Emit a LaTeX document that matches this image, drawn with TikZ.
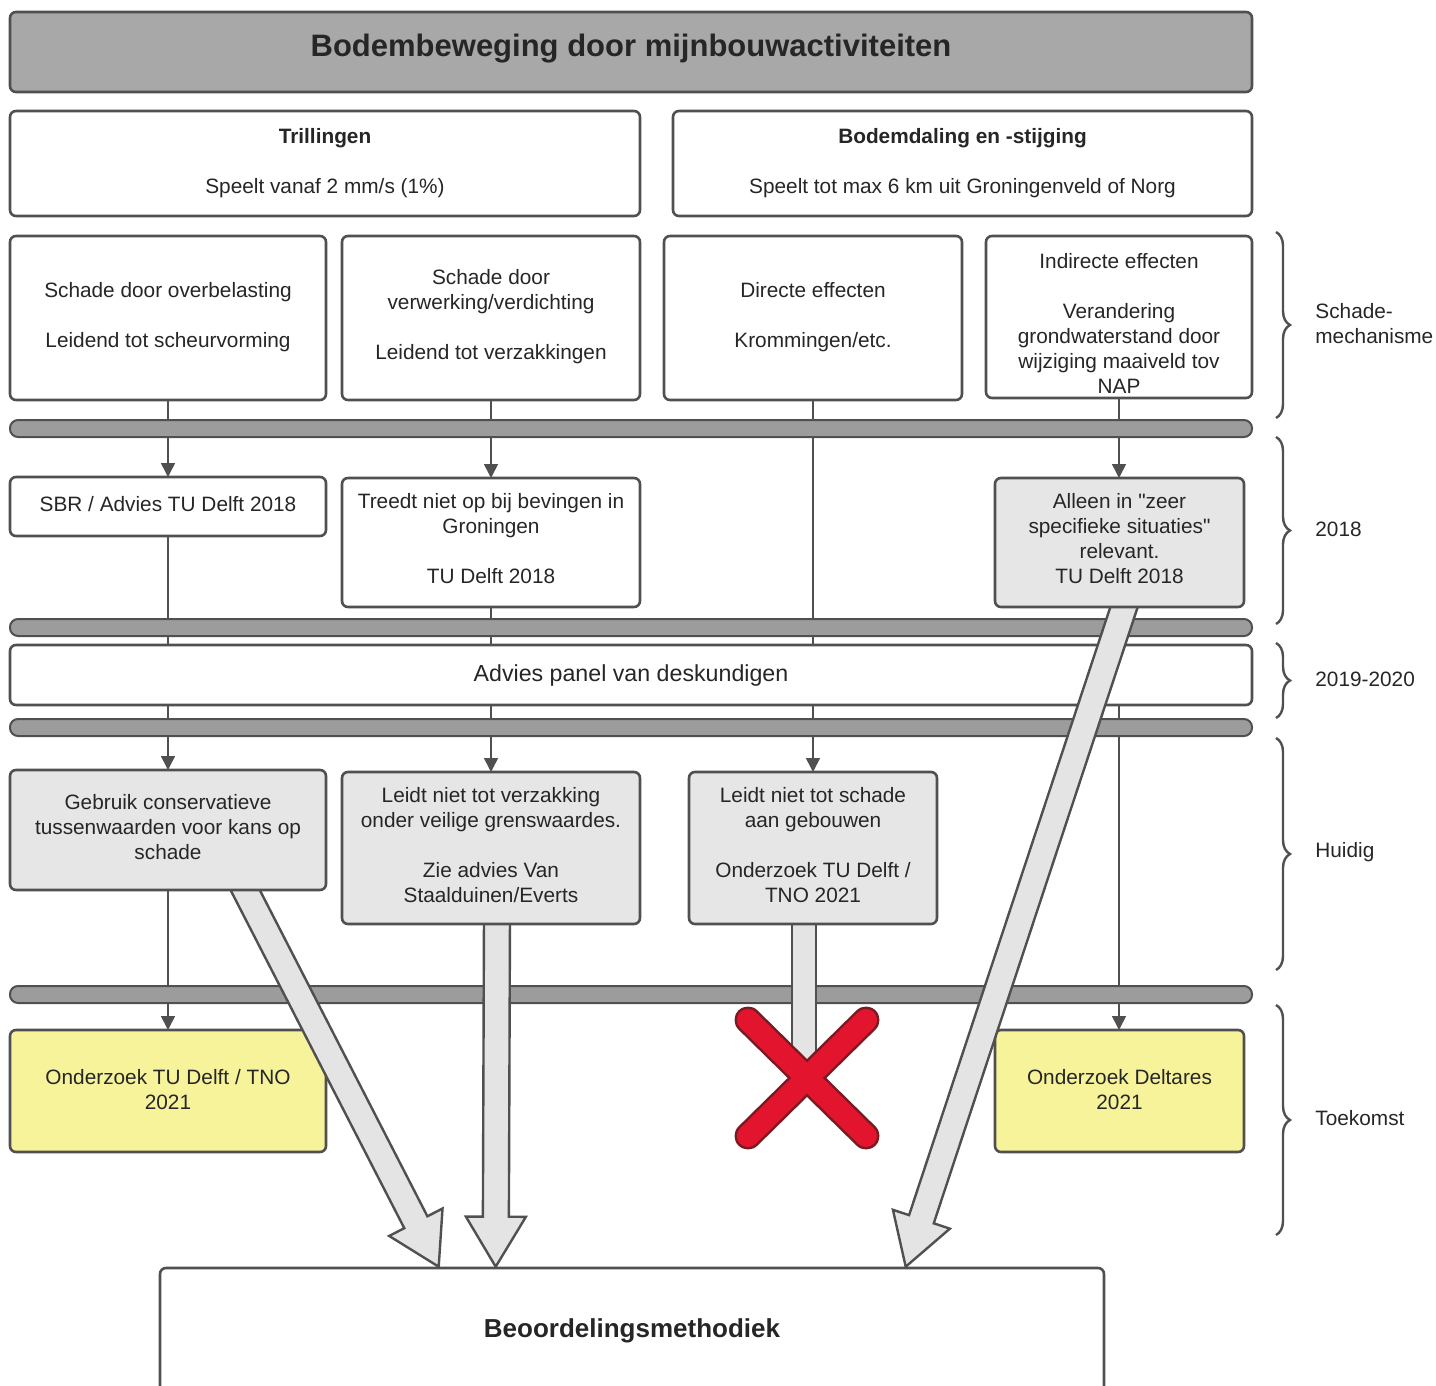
\documentclass[tikz,border=0pt]{standalone}
\usepackage{fontspec}
\setmainfont{Liberation Sans}[Ligatures=TeXOff]
\usetikzlibrary{fit,calc,arrows.meta,decorations.pathreplacing}
\definecolor{edge}{HTML}{505050}
\definecolor{titleg}{HTML}{A8A8A8}
\definecolor{barg}{HTML}{9C9C9C}
\definecolor{lightg}{HTML}{E6E6E6}
\definecolor{arrowg}{HTML}{E4E4E4}
\definecolor{yel}{HTML}{F7F39B}
\definecolor{txt}{HTML}{262626}
\definecolor{xred}{HTML}{E3142D}
\definecolor{xdark}{HTML}{7A1A22}
\newcommand\hollowarrow[2]{%
  \coordinate (hb) at ($(#2)!25pt!(#1)$);
  \draw[hollow] ($(#1)!6.5pt!90:(#2)$) -- ($(hb)!6.5pt!90:(#2)$) -- ($(hb)!15pt!90:(#2)$)
    -- (#2) -- ($(hb)!15pt!-90:(#2)$) -- ($(hb)!6.5pt!-90:(#2)$) -- ($(#1)!6.5pt!-90:(#2)$) -- cycle;}
\begin{document}
\begin{tikzpicture}[x=0.5pt,y=-0.5pt,
  base/.style={draw=edge, line width=1.3pt, rounded corners=3pt, inner sep=0pt},
  wbox/.style={base, fill=white},
  gbox/.style={base, fill=lightg},
  ybox/.style={base, fill=yel},
  tx/.style={align=center, font=\fontsize{10.4}{12.5}\selectfont, text=txt, inner sep=0pt},
  bar/.style={draw=edge, line width=1pt, fill=barg, rounded corners=4pt, inner sep=0pt},
  conn/.style={draw=edge, line width=0.8pt},
  tip/.style={-{Triangle[length=7pt,width=7pt]}},
  hollow/.style={draw=edge, line width=1.2pt, fill=arrowg, line join=miter},
  brc/.style={draw=edge, line width=1.2pt, decorate, decoration={brace, amplitude=7pt}},
  lab/.style={anchor=west, align=left, font=\fontsize{10.4}{12.5}\selectfont, text=txt, inner sep=0pt},
  xout/.style={draw=xdark, line width=13.5pt, line cap=round},
  xin/.style={draw=xred, line width=11pt, line cap=round}]
\useasboundingbox (0,0) rectangle (1436,1386);

% ---- title and headers ----
\node[base, fill=titleg, fit={(10,12) (1252,92)}] (title) {};
\node[tx, font=\fontsize{15.5}{18}\selectfont\bfseries] (title-t) at ($(title.center)+(0,-3)$) {Bodembeweging door mijnbouwactiviteiten};
\node[wbox, fit={(10,111) (640,216)}] (tril) {};
\node[tx] (tril-t) at ($(tril.center)+(0,0)$) {{\bfseries Trillingen}\\[12.5pt]Speelt vanaf 2 mm/s (1\%)};
\node[wbox, fit={(673,111) (1252,216)}] (bodem) {};
\node[tx] (bodem-t) at ($(bodem.center)+(0,0)$) {{\bfseries Bodemdaling en -stijging}\\[12.5pt]Speelt tot max 6 km uit Groningenveld of Norg};

% ---- mechanism row ----
\node[wbox, fit={(10,236) (326,400)}] (ovb) {};
\node[tx] (ovb-t) at ($(ovb.center)+(0,-1)$) {Schade door overbelasting\\[12.5pt]Leidend tot scheurvorming};
\node[wbox, fit={(342,236) (640,400)}] (verw) {};
\node[tx] (verw-t) at ($(verw.center)+(0,-1)$) {Schade door\\verwerking/verdichting\\[12.5pt]Leidend tot verzakkingen};
\node[wbox, fit={(664,236) (962,400)}] (dir) {};
\node[tx] (dir-t) at ($(dir.center)+(0,-1)$) {Directe effecten\\[12.5pt]Krommingen/etc.};
\node[wbox, fit={(986,236) (1252,398)}] (indir) {};
\node[tx] (indir-t) at ($(indir.center)+(0,6)$) {Indirecte effecten\\[12.5pt]Verandering\\grondwaterstand door\\wijziging maaiveld tov\\NAP};

% ---- thin connectors (behind bars and boxes) ----
\draw[conn,tip] (ovb.south) -- (168,477);
\draw[conn,tip] (verw.south) -- (491,478);
\draw[conn,tip] (indir.south) -- (1119,478);
\draw[conn,tip] (168,536) -- (168,770);
\draw[conn,tip] (491,607) -- (491,772);
\draw[conn,tip] (dir.south) -- (813,772);
\draw[conn,tip] (168,890) -- (168,1030);
\draw[conn,tip] (1119,607) -- (1119,1030);

% ---- bars ----
\node[bar, fit={(10,420) (1252,437)}] (bar1) {};
\node[bar, fit={(10,619) (1252,636)}] (bar2) {};
\node[bar, fit={(10,719) (1252,736)}] (bar3) {};
\node[bar, fit={(10,986) (1252,1003)}] (bar4) {};

% ---- 2018 row ----
\node[wbox, fit={(10,477) (326,536)}] (sbr) {};
\node[tx] (sbr-t) at ($(sbr.center)+(0,-2)$) {SBR / Advies TU Delft 2018};
\node[wbox, fit={(342,478) (640,607)}] (treedt) {};
\node[tx] (treedt-t) at ($(treedt.center)+(0,-4)$) {Treedt niet op bij bevingen in\\Groningen\\[12.5pt]TU Delft 2018};

% ---- advies ----
\node[wbox, fit={(10,645) (1252,705)}] (advies) {};
\node[tx, font=\fontsize{11.6}{14}\selectfont] (advies-t) at ($(advies.center)+(0,0)$) {Advies panel van deskundigen};

% ---- future row and result ----
\node[ybox, fit={(10,1030) (326,1152)}] (ytno) {};
\node[tx] (ytno-t) at ($(ytno.center)+(0,-1)$) {Onderzoek TU Delft / TNO\\2021};
\node[ybox, fit={(995,1030) (1244,1152)}] (ydel) {};
\node[tx] (ydel-t) at ($(ydel.center)+(0,-1)$) {Onderzoek Deltares\\2021};
\node[wbox, fit={(160,1268) (1104,1400)}] (beo) {};
\node[tx, font=\fontsize{13}{16}\selectfont\bfseries] (beo-t) at (632,1331) {Beoordelingsmethodiek};

% ---- big hollow arrows (start hidden inside the source boxes) ----
\coordinate (s1) at (240,880);
\coordinate (t1) at ($(beo.north west)+(280,0)$);
\hollowarrow{s1}{t1}
\coordinate (s2) at (497,915);
\coordinate (t2) at ($(beo.north west)+(337,0)$);
\hollowarrow{s2}{t2}
\coordinate (s3) at (1128,595);
\coordinate (t3) at ($(beo.north west)+(747,0)$);
\hollowarrow{s3}{t3}
\draw[hollow] (792,915) rectangle (816,1060);

% ---- source boxes drawn over arrow starts ----
\node[gbox, fit={(995,478) (1244,607)}] (alleen) {};
\node[tx] (alleen-t) at ($(alleen.center)+(0,-4)$) {Alleen in "zeer\\specifieke situaties"\\relevant.\\TU Delft 2018};
\node[gbox, fit={(10,770) (326,890)}] (gebr) {};
\node[tx] (gebr-t) at ($(gebr.center)+(0,-3)$) {Gebruik conservatieve\\tussenwaarden voor kans op\\schade};
\node[gbox, fit={(342,772) (640,924)}] (lvz) {};
\node[tx] (lvz-t) at ($(lvz.center)+(0,-3)$) {Leidt niet tot verzakking\\onder veilige grenswaardes.\\[12.5pt]Zie advies Van\\Staalduinen/Everts};
\node[gbox, fit={(689,772) (937,924)}] (lsch) {};
\node[tx] (lsch-t) at ($(lsch.center)+(0,-3)$) {Leidt niet tot schade\\aan gebouwen\\[12.5pt]Onderzoek TU Delft /\\TNO 2021};

% ---- red cross ----
\draw[xout] (748,1020) -- (866,1136);
\draw[xout] (866,1020) -- (748,1136);
\draw[xin] (748,1020) -- (866,1136);
\draw[xin] (866,1020) -- (748,1136);

% ---- braces and period labels ----
\draw[brc] (1276,232) -- (1276,418);
\draw[brc] (1276,437) -- (1276,624);
\draw[brc] (1276,643) -- (1276,718);
\draw[brc] (1276,738) -- (1276,970);
\draw[brc] (1276,1005) -- (1276,1235);
\node[lab] (lmech) at (1315,324) {Schade-\\mechanisme};
\node[lab] (l2018) at (1315,529) {2018};
\node[lab] (l2019) at (1315,679) {2019-2020};
\node[lab] (lhuid) at (1315,852) {Huidig};
\node[lab] (ltoek) at (1315,1118) {Toekomst};
\end{tikzpicture}
\end{document}
